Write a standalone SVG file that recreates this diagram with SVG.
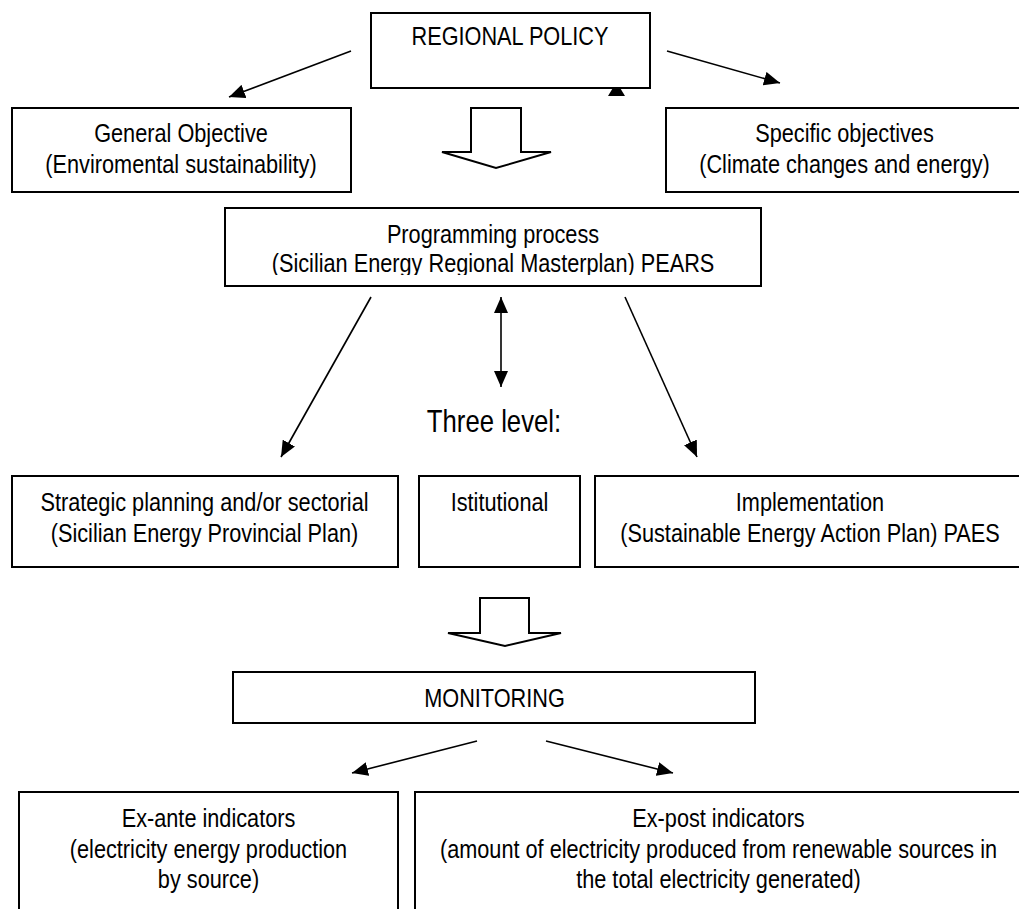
<svg xmlns="http://www.w3.org/2000/svg" width="1019" height="909" viewBox="0 0 1019 909">
<style>
.box{fill:#fff;stroke:#000;stroke-width:2}
.t{font-family:"Liberation Sans",Arial,sans-serif;font-size:26px;text-anchor:middle;fill:#000}
.big{font-size:31px}
.ln{stroke:#000;stroke-width:1.6;fill:none;marker-end:url(#ah)}
.blk{fill:#fff;stroke:#000;stroke-width:2;stroke-linejoin:miter}
</style>
<defs>
<marker id="ah" markerUnits="userSpaceOnUse" markerWidth="17" markerHeight="14" refX="16" refY="7" orient="auto-start-reverse" viewBox="0 0 17 14">
<path d="M0,0 L16,7 L0,14 z" fill="#000"/>
</marker>
<clipPath id="ppclip"><rect x="226" y="209" width="534" height="66"/></clipPath>
</defs>
<rect width="1019" height="909" fill="#fff"/>

<g id="connectors">
<polygon points="608,96 625,96 616.5,82" fill="#000"/>
<line class="ln" x1="351" y1="51" x2="229" y2="97"/>
<line class="ln" x1="667" y1="51" x2="780" y2="83"/>
<line class="ln" x1="371" y1="297" x2="281" y2="457"/>
<line class="ln" x1="625" y1="297" x2="697" y2="457"/>
<line class="ln" x1="501" y1="297" x2="501" y2="387" style="marker-start:url(#ah)"/>
<line class="ln" x1="477" y1="741" x2="352" y2="773"/>
<line class="ln" x1="546" y1="741" x2="673" y2="773"/>
<polygon class="blk" points="471,108 521,108 521,152 551,152 496,168 442,152 471,152"/>
<polygon class="blk" points="480,598 529,598 529,633 561,633 505,646 448,633 480,633"/>
</g>

<g id="regional-policy">
<rect class="box" x="371" y="13" width="279" height="75"/>
<text class="t" transform="translate(510,45) scale(0.835,1)">REGIONAL POLICY</text>
</g>

<g id="general-objective">
<rect class="box" x="12" y="108" width="339" height="84"/>
<text class="t" transform="translate(181,142) scale(0.835,1)">General Objective</text>
<text class="t" transform="translate(181,173) scale(0.835,1)">(Enviromental sustainability)</text>
</g>

<g id="specific-objectives">
<rect class="box" x="666" y="108" width="360" height="84"/>
<text class="t" transform="translate(844.5,142) scale(0.835,1)">Specific objectives</text>
<text class="t" transform="translate(844.5,173) scale(0.835,1)">(Climate changes and energy)</text>
</g>

<g id="programming-process">
<rect class="box" x="225" y="208" width="536" height="78"/>
<g clip-path="url(#ppclip)">
<text class="t" transform="translate(493,243) scale(0.835,1)">Programming process</text>
<text class="t" transform="translate(493,272) scale(0.835,1)">(Sicilian Energy Regional Masterplan) PEARS</text>
</g>
</g>

<g id="three-level">
<text class="t big" transform="translate(494,432) scale(0.83,1)">Three level:</text>
</g>

<g id="strategic">
<rect class="box" x="12" y="476" width="386" height="91"/>
<text class="t" transform="translate(204.5,511) scale(0.835,1)">Strategic planning and/or sectorial</text>
<text class="t" transform="translate(204.5,542) scale(0.835,1)">(Sicilian Energy Provincial Plan)</text>
</g>

<g id="istitutional">
<rect class="box" x="419" y="476" width="161" height="91"/>
<text class="t" transform="translate(499.5,511) scale(0.835,1)">Istitutional</text>
</g>

<g id="implementation">
<rect class="box" x="595" y="476" width="431" height="91"/>
<text class="t" transform="translate(810,511) scale(0.835,1)">Implementation</text>
<text class="t" transform="translate(810,542) scale(0.835,1)">(Sustainable Energy Action Plan) PAES</text>
</g>

<g id="monitoring">
<rect class="box" x="233" y="672" width="522" height="51"/>
<text class="t" transform="translate(494.5,707) scale(0.835,1)">MONITORING</text>
</g>

<g id="ex-ante">
<rect class="box" x="19" y="792" width="379" height="125"/>
<text class="t" transform="translate(208.5,827) scale(0.835,1)">Ex-ante indicators</text>
<text class="t" transform="translate(208.5,858) scale(0.835,1)">(electricity energy production</text>
<text class="t" transform="translate(208.5,888) scale(0.835,1)">by source)</text>
</g>

<g id="ex-post">
<rect class="box" x="415" y="792" width="612" height="125"/>
<text class="t" transform="translate(718.5,827) scale(0.835,1)">Ex-post indicators</text>
<text class="t" transform="translate(718.5,858) scale(0.835,1)">(amount of electricity produced from renewable sources in</text>
<text class="t" transform="translate(718.5,888) scale(0.835,1)">the total electricity generated)</text>
</g>
</svg>
